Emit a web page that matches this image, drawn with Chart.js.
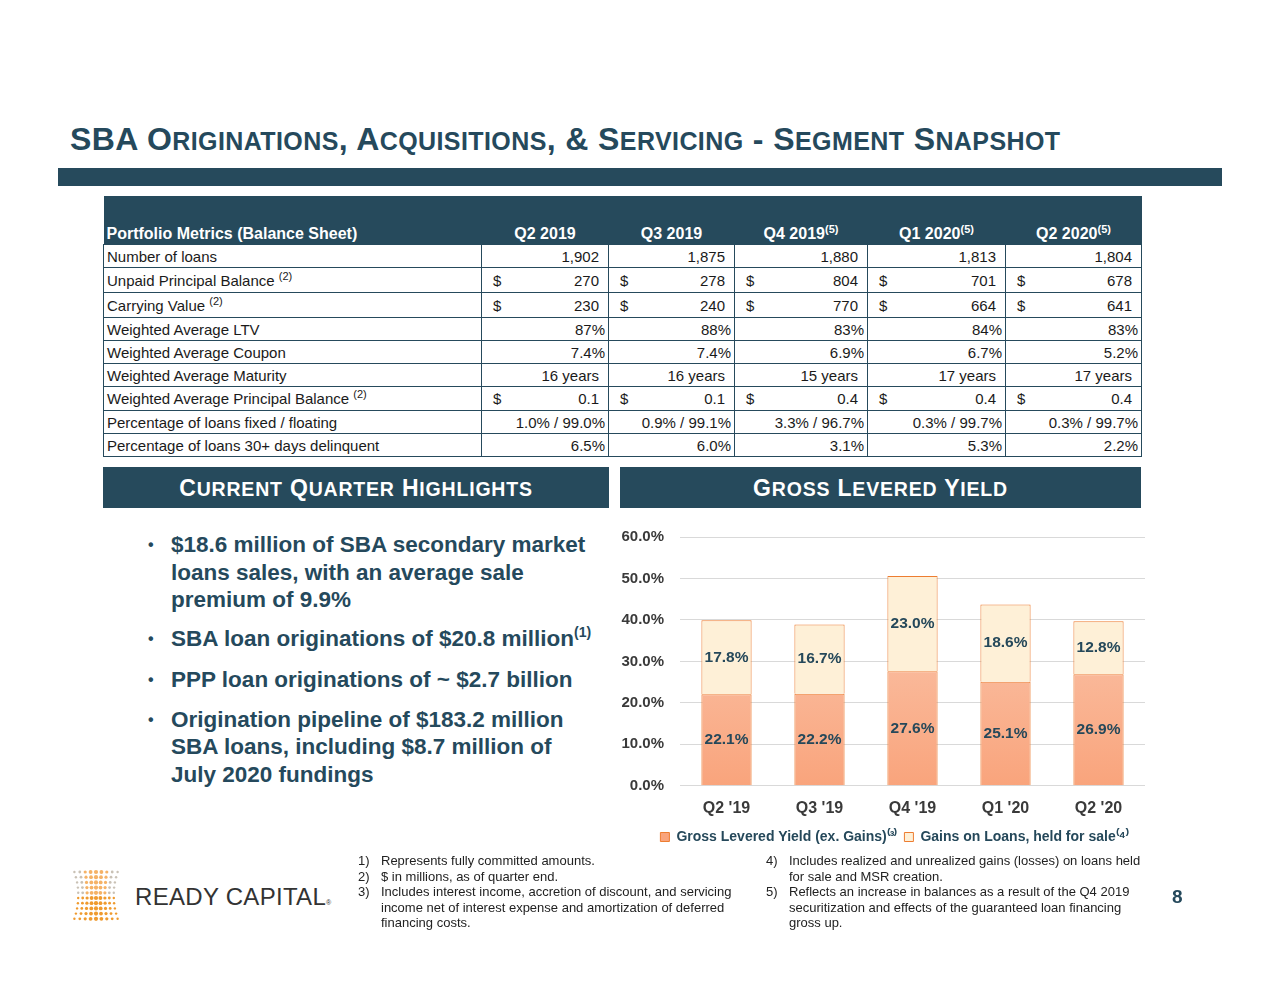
<!DOCTYPE html>
<html>
<head>
<meta charset="utf-8">
<script src="https://cdn.jsdelivr.net/npm/chart.js@4.4.0/dist/chart.umd.min.js"></script>
<style>
  body { margin: 0; width: 1280px; height: 989px; background: #fff; position: relative; overflow: hidden;
         font-family: "Liberation Sans", Arial, sans-serif; }
  .abs { position: absolute; }
  #title { left: 70px; top: 123px; font-weight: bold; color: #25495c; white-space: nowrap; line-height: 1; letter-spacing: 0.4px; }
  #rule { left: 58px; top: 168px; width: 1164px; height: 18px; background: #264a5c; }
  #metrics { position: absolute; left: 103px; top: 196px; border-collapse: collapse; table-layout: fixed;
             font-size: 15px; color: #1a1a1a; }
  #metrics th { background: #264a5c; color: #fff; font-size: 16px; height: 47px; vertical-align: bottom;
                padding: 0 0 1px 0; text-align: center; font-weight: bold; white-space: nowrap; }
  #metrics th.first { text-align: left; padding-left: 3px; }
  #metrics td { border: 1.5px solid #264a5c; padding: 0 3px; white-space: nowrap; vertical-align: middle; line-height: 17px; }
  #metrics td.v { text-align: right; }
  #metrics td .d { display: flex; justify-content: space-between; padding-left: 8px; }
  sup { font-size: 11px; vertical-align: 6px; line-height: 0; }
  .band { height: 41px; top: 467px; background: #264a5c; color: #fff; font-weight: bold; text-align: center;
          line-height: 43px; white-space: nowrap; letter-spacing: 0.8px; }
  #hl { left: 148px; top: 531px; width: 470px; color: #25495c; font-weight: bold; font-size: 22.5px; line-height: 27.5px; white-space: nowrap; }
  #hl .item { position: relative; padding-left: 23px; }
  #hl .item::before { content: "\2022"; position: absolute; left: 0; top: 0; font-size: 16px; }
  #chartBox { left: 616px; top: 512px; width: 534px; height: 342px; }
  .fn { font-size: 13px; line-height: 15.5px; color: #222; white-space: nowrap; }
  .fn .n { position: absolute; left: 0; }
  .fn .t { margin-left: 23px; }
  #brand { left: 135px; top: 883px; font-size: 24px; color: #333; letter-spacing: 0.3px; white-space: nowrap; }
  #brand small { font-size: 7px; }
  #pageNo { left: 1172px; top: 886px; font-size: 19px; font-weight: bold; color: #25495c; }
</style>
</head>
<body>

<div id="title" class="abs"></div>
<div id="rule" class="abs"></div>
<table id="metrics"></table>

<div class="abs band" id="bandLeft" style="left:103px;width:506px;"></div>
<div class="abs band" id="bandRight" style="left:620px;width:521px;"></div>

<div id="hl" class="abs">
  <div class="item" style="margin-bottom:11px">$18.6 million of SBA secondary market<br>loans sales, with an average sale<br>premium of 9.9%</div>
  <div class="item" style="margin-bottom:14px">SBA loan originations of $20.8 million<sup style="font-size:14px;vertical-align:9px">(1)</sup></div>
  <div class="item" style="margin-bottom:12px">PPP loan originations of ~ $2.7 billion</div>
  <div class="item">Origination pipeline of $183.2 million<br>SBA loans, including $8.7 million of<br>July 2020 fundings</div>
</div>

<div id="chartBox" class="abs"><canvas id="yieldChart"></canvas></div>

<div class="abs fn" style="left:358px;top:853px;width:400px;">
  <div style="position:relative"><span class="n">1)</span><div class="t">Represents fully committed amounts.</div></div>
  <div style="position:relative"><span class="n">2)</span><div class="t">$ in millions, as of quarter end.</div></div>
  <div style="position:relative"><span class="n">3)</span><div class="t">Includes interest income, accretion of discount, and servicing<br>income net of interest expense and amortization of deferred<br>financing costs.</div></div>
</div>
<div class="abs fn" style="left:766px;top:853px;width:400px;">
  <div style="position:relative"><span class="n">4)</span><div class="t">Includes realized and unrealized gains (losses) on loans held<br>for sale and MSR creation.</div></div>
  <div style="position:relative"><span class="n">5)</span><div class="t">Reflects an increase in balances as a result of the Q4 2019<br>securitization and effects of the guaranteed loan financing<br>gross up.</div></div>
</div>

<svg id="logo" class="abs" style="left:68px;top:868px" width="56" height="56"></svg>
<div id="brand" class="abs">READY CAPITAL<small>®</small></div>
<div id="pageNo" class="abs">8</div>

<script>
// table data
const tableHeaders = ['Portfolio Metrics (Balance Sheet)', 'Q2 2019', 'Q3 2019', 'Q4 2019', 'Q1 2020', 'Q2 2020'];
const headerNotes = ['', '', '', '(5)', '(5)', '(5)'];
const rowLabels = ['Number of loans', 'Unpaid Principal Balance', 'Carrying Value', 'Weighted Average LTV',
  'Weighted Average Coupon', 'Weighted Average Maturity', 'Weighted Average Principal Balance',
  'Percentage of loans fixed / floating', 'Percentage of loans 30+ days delinquent'];
const rowNotes = ['', '(2)', '(2)', '', '', '', '(2)', '', ''];
const dollarRows = [false, true, true, false, false, false, true, false, false];
const numberOfLoans = ['1,902', '1,875', '1,880', '1,813', '1,804'];
const unpaidBalance = ['270', '278', '804', '701', '678'];
const carryingValue = ['230', '240', '770', '664', '641'];
const avgLtv = ['87%', '88%', '83%', '84%', '83%'];
const avgCoupon = ['7.4%', '7.4%', '6.9%', '6.7%', '5.2%'];
const avgMaturity = ['16 years', '16 years', '15 years', '17 years', '17 years'];
const avgPrincipal = ['0.1', '0.1', '0.4', '0.4', '0.4'];
const fixedFloating = ['1.0% / 99.0%', '0.9% / 99.1%', '3.3% / 96.7%', '0.3% / 99.7%', '0.3% / 99.7%'];
const delinquent = ['6.5%', '6.0%', '3.1%', '5.3%', '2.2%'];
const tableRows = [numberOfLoans, unpaidBalance, carryingValue, avgLtv, avgCoupon, avgMaturity, avgPrincipal, fixedFloating, delinquent];

// chart data
const quarters = ["Q2 '19", "Q3 '19", "Q4 '19", "Q1 '20", "Q2 '20"];
const yieldExGains = [22.1, 22.2, 27.6, 25.1, 26.9];
const gainsHeldForSale = [17.8, 16.7, 23.0, 18.6, 12.8];

function smallCaps(text, big, small) {
  let out = '';
  for (const ch of text) {
    if (ch >= 'a' && ch <= 'z') out += '<span style="font-size:' + small + 'px">' + ch.toUpperCase() + '</span>';
    else out += '<span style="font-size:' + big + 'px">' + ch + '</span>';
  }
  return out;
}
document.getElementById('title').innerHTML = smallCaps('SBA Originations, Acquisitions, & Servicing - Segment Snapshot', 32, 25);
document.getElementById('bandLeft').innerHTML = smallCaps('Current Quarter Highlights', 23, 19.5);
document.getElementById('bandRight').innerHTML = smallCaps('Gross Levered Yield', 23, 19.5);

// build the table
const colWidths = [378, 127, 126, 133, 138, 136];
const rowHeights = [23, 25, 25, 23, 23, 23, 24, 23, 23];
const tbl = document.getElementById('metrics');
let html = '<colgroup>' + colWidths.map(w => '<col style="width:' + w + 'px">').join('') + '</colgroup><tr>';
tableHeaders.forEach((h, i) => {
  html += '<th class="' + (i === 0 ? 'first' : '') + '">' + h + (headerNotes[i] ? '<sup>' + headerNotes[i] + '</sup>' : '') + '</th>';
});
html += '</tr>';
tableRows.forEach((vals, r) => {
  html += '<tr style="height:' + rowHeights[r] + 'px"><td>' + rowLabels[r] + (rowNotes[r] ? ' <sup>' + rowNotes[r] + '</sup>' : '') + '</td>';
  vals.forEach(v => {
    const pad = v.endsWith('%') ? 3 : 9;
    if (dollarRows[r]) html += '<td class="v" style="padding-right:' + pad + 'px"><div class="d"><span>$</span><span>' + v + '</span></div></td>';
    else html += '<td class="v" style="padding-right:' + pad + 'px">' + v + '</td>';
  });
  html += '</tr>';
});
tbl.innerHTML = html;

// logo dots
const svg = document.getElementById('logo');
let dots = '';
for (let r = 0; r < 10; r++) {
  for (let c = 0; c < 9; c++) {
    const t = (r - 4.5) / 4.5;
    const squeeze = 1 - 0.18 * (1 - t * t);
    const x = 28 + (c - 4) * 5.4 * squeeze;
    const y = 4 + r * 5.2;
    const edge = Math.abs(c - 4) / 4;
    const rad = 1.2 + 0.9 * (1 - edge);
    const col = r < 5 ? (edge > 0.6 ? '#c9c1b5' : '#f5b266') : '#ef9a2e';
    dots += '<circle cx="' + x.toFixed(1) + '" cy="' + y.toFixed(1) + '" r="' + rad.toFixed(1) + '" fill="' + col + '"/>';
  }
}
svg.innerHTML = dots;

// labels drawn in the middle of each stacked segment
const segmentLabels = {
  id: 'segmentLabels',
  afterDatasetsDraw(chart) {
    const c = chart.ctx;
    c.save();
    c.font = 'bold 15.5px "Liberation Sans", Arial, sans-serif';
    c.fillStyle = '#25485a';
    c.textAlign = 'center';
    c.textBaseline = 'middle';
    chart.data.datasets.forEach((ds, i) => {
      chart.getDatasetMeta(i).data.forEach((bar, j) => {
        const p = bar.getProps(['x', 'y', 'base'], true);
        c.fillText(ds.data[j].toFixed(1) + '%', p.x, (p.y + p.base) / 2);
      });
    });
    c.restore();
  }
};

// legend sits a little right of the canvas centre in the slide
const legendNudge = {
  id: 'legendNudge',
  afterLayout(chart) {
    chart.legend.left += 14;
    chart.legend.right += 14;
  }
};

Chart.defaults.font.family = '"Liberation Sans", Arial, sans-serif';

new Chart(document.getElementById('yieldChart'), {
  type: 'bar',
  data: {
    labels: quarters,
    datasets: [{
      label: 'Gross Levered Yield (ex. Gains)\u207D\u00B3\u207E',
      data: yieldExGains,
      backgroundColor: (ctx) => {
        const a = ctx.chart.chartArea;
        if (!a) return '#f9b090';
        const g = ctx.chart.ctx.createLinearGradient(0, a.top, 0, a.bottom);
        g.addColorStop(0, '#fbd0bb');
        g.addColorStop(1, '#f9a47c');
        return g;
      },
      borderColor: '#ed7d31',
      borderWidth: 1,
      barPercentage: 0.54,
      categoryPercentage: 1
    }, {
      label: 'Gains on Loans, held for sale\u207D\u2074\u207E',
      data: gainsHeldForSale,
      backgroundColor: '#fef0d7',
      borderColor: '#ed7d31',
      borderWidth: 1,
      barPercentage: 0.54,
      categoryPercentage: 1
    }]
  },
  options: {
    responsive: true,
    maintainAspectRatio: false,
    animation: false,
    layout: { padding: { top: 3, right: 5, left: 0, bottom: 0 } },
    plugins: {
      legend: {
        position: 'bottom',
        labels: {
          boxWidth: 9,
          boxHeight: 9,
          padding: 7,
          color: '#25485a',
          font: { size: 14, weight: 'bold' }
        }
      },
      tooltip: { enabled: false }
    },
    scales: {
      x: {
        stacked: true,
        grid: { display: false },
        border: { display: false },
        ticks: { color: '#3a3a3a', font: { size: 16, weight: 'bold' }, padding: 5 }
      },
      y: {
        stacked: true,
        min: 0,
        max: 60,
        afterFit(scale) { scale.width = 64; },
        grid: { color: '#d9d9d9', drawTicks: false },
        border: { display: false },
        ticks: {
          stepSize: 10,
          padding: 16,
          color: '#3a3a3a',
          font: { size: 15, weight: 'bold' },
          callback: (v) => v.toFixed(1) + '%'
        }
      }
    }
  },
  plugins: [segmentLabels, legendNudge]
});
</script>
</body>
</html>
